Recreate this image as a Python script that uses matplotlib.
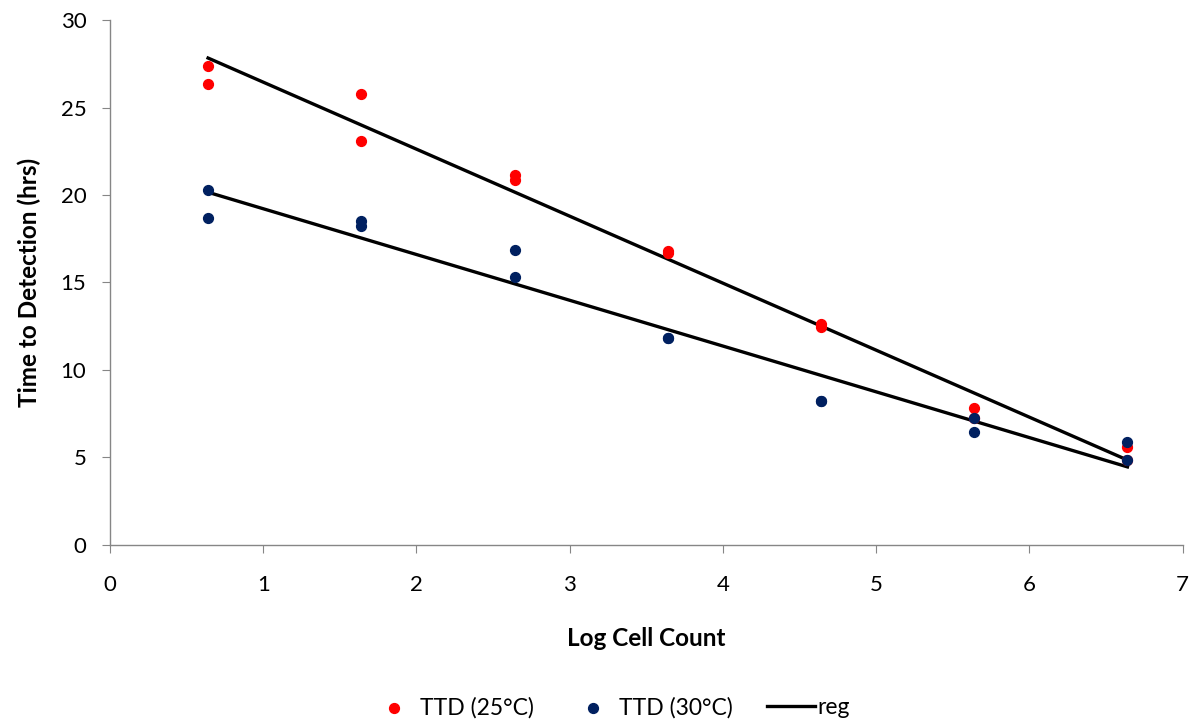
import matplotlib
matplotlib.use('Agg')
import matplotlib.pyplot as plt
import numpy as np

plt.rcParams['font.family'] = ['Lato', 'DejaVu Sans']

# Log cell count for each dilution (two replicates per level)
log_cells = [0.64, 0.64, 1.64, 1.64, 2.64, 2.64, 3.64, 3.64, 4.64, 4.64, 5.64, 5.64, 6.64, 6.64]

# Time to detection (hrs)
ttd_25 = [27.4, 26.35, 25.8, 23.1, 21.15, 20.85, 16.8, 16.7, 12.6, 12.45, 7.85, 7.25, 5.62, 4.84]
ttd_30 = [20.3, 18.67, 18.5, 18.2, 16.85, 15.3, 11.85, 11.8, 8.25, 8.2, 7.24, 6.46, 5.87, 4.84]

red = '#FF0000'
navy = '#002060'
grey = '#868686'

fig = plt.figure(figsize=(11.97, 7.25), dpi=100)
ax = fig.add_axes([0.0919, 0.2483, 0.8961, 0.7241])

ax.scatter(log_cells, ttd_25, s=50, color=red, zorder=3, label='TTD (25°C)')
ax.scatter(log_cells, ttd_30, s=50, color=navy, zorder=3, label='TTD (30°C)')

# least-squares regression lines
x = np.array(log_cells)
xs = np.array([min(log_cells), max(log_cells)])
for series, lbl in [(ttd_25, 'reg'), (ttd_30, None)]:
    m, b = np.polyfit(x, series, 1)
    ax.plot(xs, m * xs + b, color='black', lw=2.4, zorder=2, label=lbl)

ax.set_xlim(0, 7)
ax.set_ylim(0, 30)
ax.set_xticks(range(0, 8))
ax.set_yticks(range(0, 31, 5))

for side in ['top', 'right']:
    ax.spines[side].set_visible(False)
for side in ['left', 'bottom']:
    ax.spines[side].set_color(grey)
    ax.spines[side].set_linewidth(1)
ax.tick_params(axis='both', direction='out', length=6, color=grey, labelsize=16)
ax.tick_params(axis='x', pad=15.5)
ax.tick_params(axis='y', pad=11)

ax.set_xlabel('Log Cell Count', fontsize=17.5, fontweight='bold', labelpad=23)
ax.set_ylabel('Time to Detection (hrs)', fontsize=17.5, fontweight='bold', labelpad=14)

ax.legend(loc='center', bbox_to_anchor=(0.466, -0.31), ncol=3, frameon=False,
          fontsize=16.5, handlelength=2.1, handletextpad=0.1, columnspacing=1.5,
          scatterpoints=1)

fig.savefig('out.png', dpi=100)
